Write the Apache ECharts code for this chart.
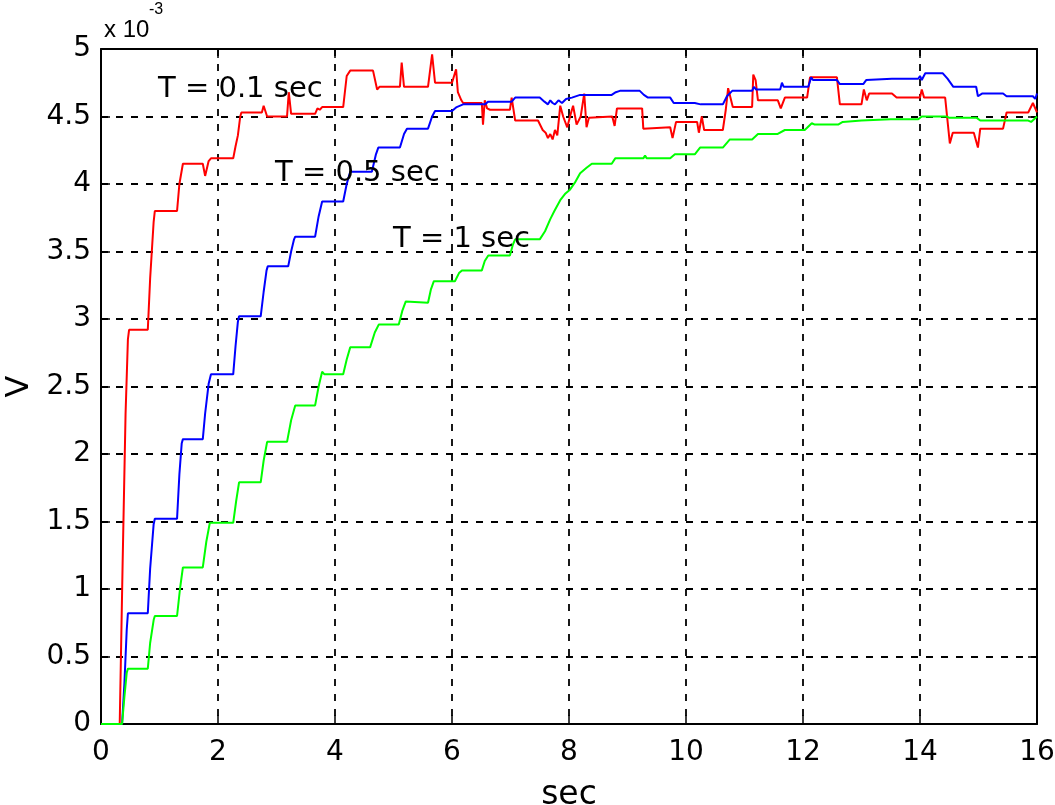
<!DOCTYPE html>
<html>
<head>
<meta charset="utf-8">
<script src="https://cdn.jsdelivr.net/npm/echarts@6/dist/echarts.min.js"></script>
<style>
html,body{margin:0;padding:0;background:#fff;}
#chart{width:1055px;height:805px;}
</style>
</head>
<body>
<div id="chart"></div>
<script>
// Values in units of 1e-3 V
const redT = [0,0.32,0.37,0.42,0.46,0.48,0.80,0.84,0.90,0.92,1.30,1.34,1.40,1.74,1.78,1.84,1.88,2.26,2.30,2.34,2.38,2.40,2.75,2.78,2.84,3.18,3.21,3.25,3.66,3.70,3.74,3.78,4.14,4.20,4.26,4.65,4.72,4.76,5.11,5.14,5.18,5.59,5.66,5.71,6.00,6.07,6.10,6.16,6.19,6.51,6.53,6.56,6.60,6.65,6.99,7.02,7.08,7.47,7.55,7.60,7.64,7.68,7.72,7.76,7.80,7.85,7.90,7.97,8.03,8.07,8.13,8.20,8.26,8.30,8.34,8.74,8.78,8.82,9.25,9.27,9.30,9.73,9.77,9.83,10.19,10.22,10.27,10.31,10.63,10.68,10.72,10.80,11.13,11.15,11.19,11.23,11.57,11.62,11.69,12.07,12.12,12.58,12.63,13.00,13.04,13.09,13.13,13.52,13.60,14.00,14.03,14.07,14.43,14.51,14.56,14.92,14.99,15.03,15.42,15.48,15.85,15.93,16.00];
const redV = [0,0,1.2,2.3,2.85,2.92,2.92,3.3,3.72,3.80,3.80,4.0,4.15,4.15,4.06,4.17,4.19,4.19,4.28,4.36,4.50,4.53,4.53,4.58,4.50,4.50,4.68,4.52,4.52,4.56,4.55,4.57,4.57,4.80,4.84,4.84,4.70,4.72,4.72,4.90,4.72,4.72,4.96,4.75,4.75,4.85,4.68,4.62,4.60,4.60,4.44,4.62,4.56,4.55,4.55,4.64,4.47,4.47,4.40,4.38,4.34,4.37,4.33,4.40,4.36,4.58,4.50,4.42,4.52,4.58,4.44,4.50,4.67,4.42,4.49,4.50,4.43,4.56,4.56,4.41,4.42,4.42,4.34,4.46,4.46,4.38,4.50,4.40,4.40,4.55,4.71,4.57,4.57,4.81,4.77,4.62,4.62,4.56,4.64,4.64,4.79,4.79,4.59,4.59,4.70,4.62,4.67,4.67,4.64,4.64,4.70,4.64,4.64,4.30,4.38,4.38,4.27,4.41,4.41,4.53,4.53,4.60,4.53];

const blueT = [0,0.36,0.40,0.44,0.46,0.80,0.84,0.90,0.92,1.30,1.34,1.38,1.40,1.74,1.78,1.84,1.88,2.26,2.30,2.34,2.36,2.73,2.78,2.83,2.85,3.20,3.25,3.30,3.32,3.66,3.72,3.78,4.14,4.20,4.26,4.63,4.70,4.74,5.11,5.18,5.23,5.59,5.66,5.71,6.00,6.08,6.19,6.56,6.62,7.02,7.08,7.50,7.58,7.64,7.68,7.72,7.76,7.82,7.88,7.95,8.05,8.19,8.73,8.80,8.87,9.21,9.28,9.35,9.73,9.79,10.15,10.25,10.63,10.70,10.79,11.13,11.16,11.20,11.61,11.64,11.67,12.09,12.14,12.17,12.58,12.63,13.03,13.08,13.11,13.52,13.55,13.58,13.97,14.00,14.03,14.09,14.39,14.47,14.57,14.96,14.99,15.06,15.42,15.48,15.93,15.97,16.00];
const blueV = [0,0,0.30,0.70,0.82,0.82,1.15,1.48,1.52,1.52,1.85,2.08,2.11,2.11,2.30,2.52,2.59,2.59,2.80,2.98,3.02,3.02,3.20,3.36,3.39,3.39,3.50,3.59,3.61,3.61,3.76,3.87,3.87,4.00,4.09,4.09,4.22,4.27,4.27,4.37,4.41,4.41,4.50,4.54,4.54,4.57,4.59,4.59,4.61,4.61,4.64,4.64,4.61,4.59,4.62,4.60,4.59,4.62,4.60,4.63,4.64,4.66,4.66,4.68,4.69,4.69,4.66,4.64,4.64,4.60,4.60,4.59,4.59,4.65,4.69,4.69,4.72,4.70,4.70,4.75,4.72,4.72,4.79,4.77,4.77,4.74,4.74,4.77,4.78,4.78,4.79,4.78,4.78,4.80,4.77,4.82,4.82,4.78,4.72,4.72,4.65,4.67,4.67,4.65,4.65,4.63,4.67];

const greenT = [0,0.36,0.40,0.44,0.46,0.80,0.84,0.90,0.92,1.30,1.35,1.40,1.74,1.80,1.86,2.26,2.31,2.36,2.73,2.78,2.84,3.18,3.25,3.32,3.66,3.72,3.78,3.82,4.14,4.20,4.26,4.60,4.68,4.75,5.09,5.15,5.21,5.24,5.59,5.64,5.69,6.05,6.12,6.17,6.51,6.56,6.62,6.99,7.04,7.08,7.50,7.59,7.68,7.75,7.85,7.94,8.02,8.10,8.19,8.30,8.39,8.73,8.79,9.27,9.30,9.33,9.73,9.81,10.15,10.24,10.63,10.75,11.13,11.23,11.56,11.69,12.03,12.15,12.20,12.60,12.68,13.00,13.50,13.97,14.03,14.46,14.50,14.97,15.03,15.85,15.90,16.00];
const greenV = [0,0,0.20,0.38,0.41,0.41,0.60,0.77,0.80,0.80,1.00,1.16,1.16,1.35,1.49,1.49,1.65,1.79,1.79,1.95,2.09,2.09,2.25,2.36,2.36,2.50,2.61,2.59,2.59,2.70,2.79,2.79,2.90,2.96,2.96,3.06,3.13,3.12,3.12,3.22,3.28,3.28,3.34,3.36,3.36,3.43,3.47,3.47,3.55,3.59,3.59,3.65,3.74,3.80,3.88,3.93,3.96,4.01,4.08,4.12,4.15,4.15,4.19,4.19,4.21,4.19,4.19,4.22,4.22,4.27,4.27,4.33,4.33,4.37,4.37,4.40,4.40,4.45,4.44,4.44,4.46,4.47,4.48,4.48,4.50,4.50,4.49,4.49,4.47,4.47,4.46,4.50];

const xMin = 0, xMax = 16, xStep = 2;
const yMin = 0, yMax = 5, yStep = 0.5;
const labels = [
  {text: 'T = 0.1 sec', x: 158, y: 89},
  {text: 'T = 0.5 sec', x: 275, y: 173},
  {text: 'T = 1 sec', x: 393, y: 239}
];

function pairs(t, v) { return t.map((x, i) => [x, v[i]]); }

const FONT = 'DejaVu Sans';
const chart = echarts.init(document.getElementById('chart'));
const axisLine = {show: true, onZero: false, lineStyle: {color: '#000', width: 2}};
const axisTick = {show: true, inside: true, length: 9, lineStyle: {color: '#000', width: 1.5}};
const splitLine = {show: true, lineStyle: {color: '#000', width: 1.8, type: [7, 8]}};

chart.setOption({
  animation: false,
  backgroundColor: '#fff',
  grid: {left: 101, top: 49, width: 936, height: 675, containLabel: false, outerBoundsMode: 'none'},
  xAxis: [
    {type: 'value', min: xMin, max: xMax, interval: xStep, position: 'bottom',
     axisLine, axisTick, splitLine,
     axisLabel: {color: '#000', fontSize: 28, fontFamily: FONT, margin: 15},
     name: 'sec', nameLocation: 'middle', nameGap: 55,
     nameTextStyle: {color: '#000', fontSize: 33, fontFamily: FONT}},
    {type: 'value', min: xMin, max: xMax, interval: xStep, position: 'top',
     axisLine, axisTick, splitLine: {show: false}, axisLabel: {show: false}}
  ],
  yAxis: [
    {type: 'value', min: yMin, max: yMax, interval: yStep, position: 'left',
     axisLine, axisTick, splitLine,
     axisLabel: {color: '#000', fontSize: 28, fontFamily: FONT, margin: 10},
     name: 'V', nameLocation: 'middle', nameGap: 64, nameRotate: 90,
     nameTextStyle: {color: '#000', fontSize: 32, fontFamily: FONT}},
    {type: 'value', min: yMin, max: yMax, interval: yStep, position: 'right',
     axisLine, axisTick, splitLine: {show: false}, axisLabel: {show: false}}
  ],
  series: [
    {type: 'line', name: 'T = 0.1 sec', data: pairs(redT, redV), showSymbol: false,
     lineStyle: {color: '#ff0000', width: 2}, itemStyle: {color: '#ff0000'}},
    {type: 'line', name: 'T = 0.5 sec', data: pairs(blueT, blueV), showSymbol: false,
     lineStyle: {color: '#0000ff', width: 2}, itemStyle: {color: '#0000ff'}},
    {type: 'line', name: 'T = 1 sec', data: pairs(greenT, greenV), showSymbol: false,
     lineStyle: {color: '#00ff00', width: 2}, itemStyle: {color: '#00ff00'}}
  ],
  graphic: [
    ...labels.map(l => ({type: 'text', x: l.x, y: l.y, z: 100,
      style: {text: l.text, fontSize: 29, fontFamily: FONT, fill: '#000', verticalAlign: 'middle', align: 'left'}})),
    {type: 'text', x: 104, y: 30, style: {text: 'x 10', fontSize: 24, fontFamily: 'Liberation Sans', fill: '#000', verticalAlign: 'middle'}},
    {type: 'text', x: 149, y: 10, style: {text: '-3', fontSize: 16, fontFamily: 'Liberation Sans', fill: '#000', verticalAlign: 'middle'}}
  ]
});
</script>
</body>
</html>
